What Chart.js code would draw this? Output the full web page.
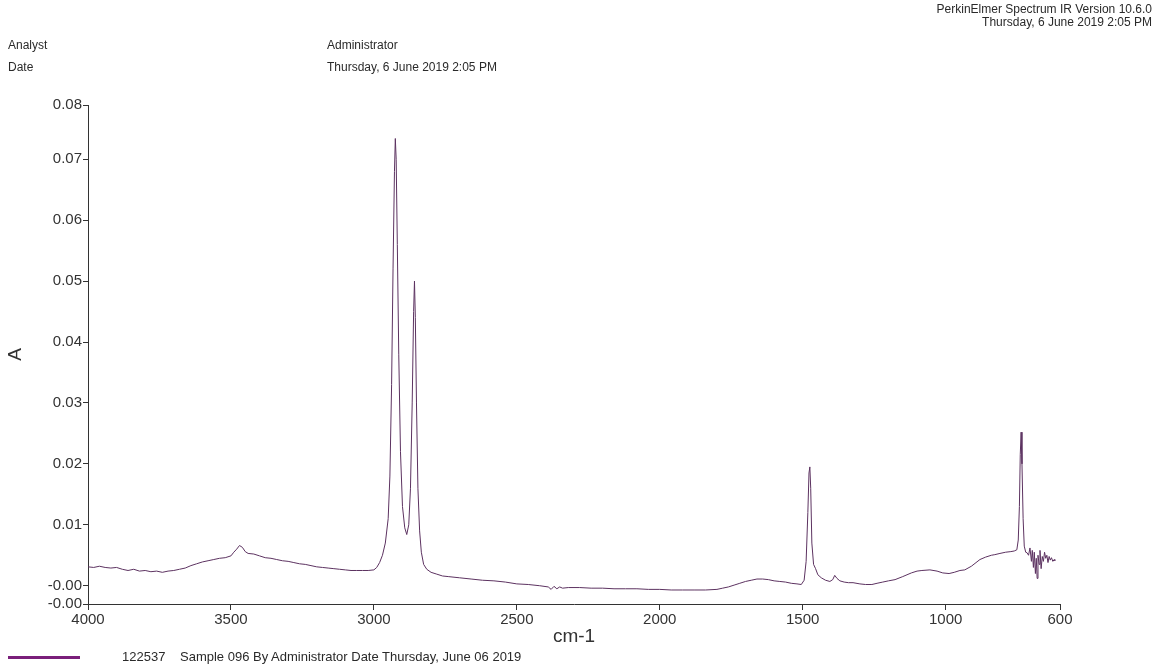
<!DOCTYPE html>
<html>
<head>
<meta charset="utf-8">
<script src="https://cdn.jsdelivr.net/npm/chart.js@4.4.1/dist/chart.umd.min.js"></script>
<style>
  body { margin: 0; background: #fff; font-family: "Liberation Sans", Arial, sans-serif; color: #2a2a2a; }
  #wrap { position: relative; width: 1160px; height: 670px; overflow: hidden; }
  #chart { position: absolute; left: 0; top: 0; }
  .t { position: absolute; font-size: 12px; line-height: 14px; white-space: nowrap; }
  .lg { position: absolute; font-size: 13px; line-height: 14px; white-space: nowrap; }
  .tr { position: absolute; right: 8px; font-size: 12px; line-height: 13px; text-align: right; white-space: nowrap; }
  .key { position: absolute; left: 8px; top: 656px; width: 72px; height: 3px; background: #7a1f7a; }
</style>
</head>
<body>
<div id="wrap">
  <canvas id="chart" width="1160" height="670"></canvas>
  <div class="tr" style="top:3px">PerkinElmer Spectrum IR Version 10.6.0</div>
  <div class="tr" style="top:16px">Thursday, 6 June 2019 2:05 PM</div>
  <div class="t" style="left:8px;top:38px">Analyst</div>
  <div class="t" style="left:8px;top:60px">Date</div>
  <div class="t" style="left:327px;top:38px">Administrator</div>
  <div class="t" style="left:327px;top:60px">Thursday, 6 June 2019 2:05 PM</div>
  <div class="key"></div>
  <div class="lg" style="left:122px;top:650px">122537</div>
  <div class="lg" style="left:180px;top:650px">Sample 096 By Administrator Date Thursday, June 06 2019</div>
</div>
<script>
// spectrum (cm-1 / absorbance)
const wavenumbers = [
  4000, 3980, 3960, 3940, 3920, 3900, 3880, 3860, 3840, 3820,
  3800, 3780, 3760, 3740, 3720, 3700, 3680, 3660, 3640, 3620,
  3600, 3580, 3560, 3540, 3520, 3500, 3490, 3480, 3470, 3460,
  3450, 3440, 3420, 3400, 3380, 3360, 3340, 3320, 3300, 3280,
  3260, 3240, 3220, 3200, 3180, 3160, 3140, 3120, 3100, 3080,
  3060, 3040, 3020, 3000, 2990, 2980, 2970, 2960, 2950, 2944,
  2938, 2933, 2928, 2925, 2922, 2918, 2913, 2907, 2900, 2892,
  2885, 2878, 2872, 2866, 2861, 2858, 2855, 2851, 2846, 2840,
  2834, 2826, 2815, 2800, 2780, 2760, 2740, 2700, 2660, 2620,
  2580, 2540, 2500, 2460, 2420, 2390, 2380, 2370, 2360, 2350,
  2340, 2320, 2280, 2240, 2200, 2160, 2120, 2080, 2040, 2000,
  1960, 1920, 1880, 1840, 1800, 1780, 1760, 1740, 1720, 1700,
  1680, 1660, 1640, 1620, 1600, 1580, 1560, 1540, 1520, 1505,
  1495, 1488, 1482, 1478, 1475, 1472, 1468, 1462, 1455, 1447,
  1435, 1420, 1405, 1395, 1388, 1380, 1370, 1355, 1340, 1324,
  1300, 1280, 1258, 1240, 1220, 1200, 1177, 1150, 1120, 1100,
  1083, 1055, 1030, 1010, 988, 970, 950, 933, 910, 880,
  860, 840, 828, 810, 790, 772, 760, 751, 746, 742,
  739, 736, 733, 729, 725, 720, 715, 710, 705, 700,
  697, 693, 690, 686, 683, 680, 677, 673, 670, 666,
  662, 658, 654, 650, 646, 642, 638, 634, 630, 625,
  620, 618
];
const absorbance = [
  0.0031, 0.0030, 0.0032, 0.0030, 0.0029, 0.0030, 0.0027, 0.0025, 0.0027, 0.0024,
  0.0025, 0.0023, 0.0024, 0.0022, 0.0024, 0.0025, 0.0027, 0.0029, 0.0033, 0.0036,
  0.0039, 0.0041, 0.0043, 0.0045, 0.0046, 0.0049, 0.0055, 0.0060, 0.0066, 0.0063,
  0.0056, 0.0053, 0.0052, 0.0049, 0.0046, 0.0045, 0.0043, 0.0041, 0.0040, 0.0038,
  0.0036, 0.0035, 0.0033, 0.0031, 0.0030, 0.0029, 0.0028, 0.0027, 0.0026, 0.0025,
  0.0025, 0.0025, 0.0025, 0.0026, 0.0030, 0.0038, 0.0050, 0.0070, 0.0110, 0.0180,
  0.0330, 0.0520, 0.0680, 0.0734, 0.0700, 0.0560, 0.0380, 0.0220, 0.0130, 0.0095,
  0.0084, 0.0100, 0.0160, 0.0300, 0.0450, 0.0500, 0.0440, 0.0300, 0.0160, 0.0090,
  0.0055, 0.0035, 0.0027, 0.0022, 0.0019, 0.0016, 0.0015, 0.0013, 0.0011, 0.0009,
  0.0008, 0.0006, 0.0003, 0.0002, 0.0000, -0.0002, -0.0006, -0.0001, -0.0005, -0.0002,
  -0.0004, -0.0003, -0.0003, -0.0004, -0.0004, -0.0005, -0.0005, -0.0005, -0.0006, -0.0006,
  -0.0007, -0.0007, -0.0007, -0.0007, -0.0006, -0.0004, -0.0002, 0.0001, 0.0004, 0.0007,
  0.0009, 0.0011, 0.0011, 0.0010, 0.0008, 0.0007, 0.0006, 0.0004, 0.0003, 0.0002,
  0.0009, 0.0040, 0.0120, 0.0185, 0.0195, 0.0160, 0.0070, 0.0035, 0.0028, 0.0018,
  0.0013, 0.0009, 0.0007, 0.0010, 0.0017, 0.0012, 0.0008, 0.0006, 0.0005, 0.0005,
  0.0003, 0.0002, 0.0002, 0.0004, 0.0006, 0.0008, 0.0010, 0.0015, 0.0021, 0.0024,
  0.0025, 0.0026, 0.0024, 0.0021, 0.0020, 0.0022, 0.0025, 0.0026, 0.0032, 0.0043,
  0.0047, 0.0050, 0.0051, 0.0053, 0.0055, 0.0056, 0.0057, 0.0059, 0.0075, 0.0130,
  0.0215, 0.0252, 0.0200, 0.0110, 0.0065, 0.0055, 0.0054, 0.0050, 0.0062, 0.0040,
  0.0058, 0.0030, 0.0055, 0.0020, 0.0045, 0.0012, 0.0050, 0.0035, 0.0058, 0.0028,
  0.0048, 0.0040, 0.0055, 0.0045, 0.0050, 0.0038, 0.0048, 0.0042, 0.0046, 0.0040,
  0.0043, 0.0041
];

const xTickValues = [4000, 3500, 3000, 2500, 2000, 1500, 1000, 600];
const yTickValues = [-0.003, 0, 0.01, 0.02, 0.03, 0.04, 0.05, 0.06, 0.07, 0.0789];
const yTickLabels = ['-0.00', '-0.00', '0.01', '0.02', '0.03', '0.04', '0.05', '0.06', '0.07', '0.08'];

const axisColor = '#333';
const lineColor = '#5c3260';

const points = wavenumbers.map((wn, i) => ({ x: wn, y: absorbance[i] }));

new Chart(document.getElementById('chart'), {
  type: 'line',
  data: {
    datasets: [{
      data: points,
      borderColor: lineColor,
      borderWidth: 1,
      pointRadius: 0,
      tension: 0,
      fill: false
    }]
  },
  options: {
    responsive: false,
    animation: false,
    layout: { padding: { top: 105, right: 100, bottom: 6, left: 0 } },
    plugins: {
      legend: { display: false },
      tooltip: { enabled: false }
    },
    scales: {
      x: {
        type: 'linear',
        reverse: true,
        min: 600,
        max: 4000,
        afterBuildTicks: (s) => { s.ticks = xTickValues.map((v) => ({ value: v })); },
        afterFit: (s) => { s.height = 60; },
        ticks: {
          autoSkip: false,
          maxRotation: 0,
          padding: 1,
          color: axisColor,
          font: { size: 15 },
          callback: (v) => String(v)
        },
        grid: { drawOnChartArea: false, tickLength: 6, color: axisColor },
        border: { color: axisColor },
        title: {
          display: true,
          text: 'cm-1',
          color: axisColor,
          font: { size: 19 },
          padding: { top: 0, bottom: 16 }
        }
      },
      y: {
        type: 'linear',
        min: yTickValues[0],
        max: yTickValues[yTickValues.length - 1],
        afterBuildTicks: (s) => { s.ticks = yTickValues.map((v) => ({ value: v })); },
        afterFit: (s) => { s.width = 88; },
        ticks: {
          autoSkip: false,
          padding: 1,
          color: axisColor,
          font: { size: 15 },
          callback: (v, i) => yTickLabels[i]
        },
        grid: { drawOnChartArea: false, tickLength: 5, color: axisColor },
        border: { color: axisColor },
        title: {
          display: true,
          text: 'A',
          color: axisColor,
          font: { size: 19 },
          padding: { top: 4, bottom: 0 }
        }
      }
    }
  }
});
</script>
</body>
</html>
